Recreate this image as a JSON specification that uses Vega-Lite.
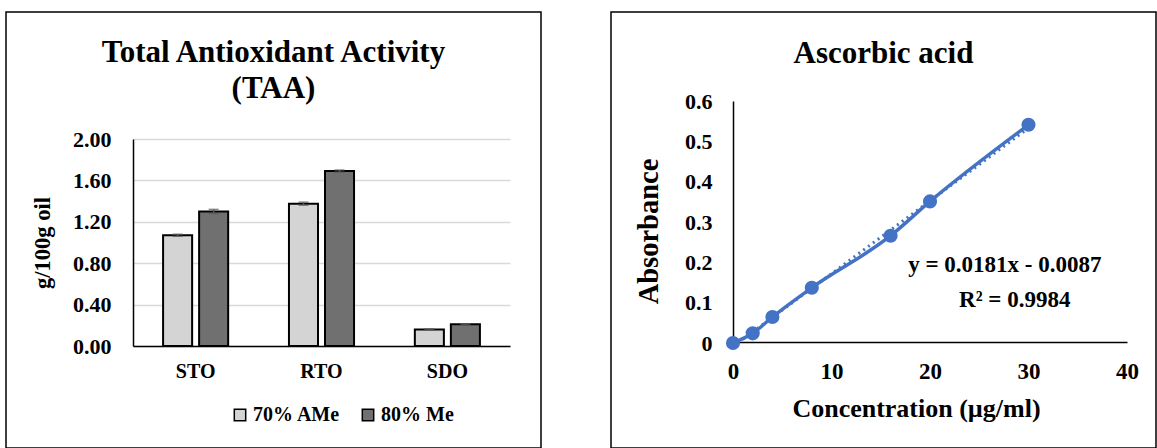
{
  "$schema": "https://vega.github.io/schema/vega-lite/v6.json",
  "padding": {"left": 5, "top": 11, "right": 0, "bottom": 0},
  "background": "white",
  "spacing": 68,
  "config": {
    "font": "Liberation Serif",
    "view": {"stroke": "#000", "strokeWidth": 1.5},
    "axis": {
      "labelFont": "Liberation Serif",
      "titleFont": "Liberation Serif",
      "labelFontWeight": "bold",
      "titleFontWeight": "bold",
      "labelColor": "#000",
      "titleColor": "#000",
      "domainColor": "#000",
      "domainWidth": 1.5,
      "ticks": false,
      "labelFlush": false
    },
    "title": {"font": "Liberation Serif", "fontWeight": "bold", "color": "#000"}
  },
  "hconcat": [
    {
      "width": 535,
      "height": 436,
      "title": {"text": ["Total Antioxidant Activity", "(TAA)"], "fontSize": 31, "lineHeight": 36, "offset": -93, "anchor": "middle", "frame": "group"},
      "data": {
        "values": [
          {"Oil": "STO", "Solvent": "70% AMe", "TAA": 1.07, "lo": 1.06, "hi": 1.08},
          {"Oil": "STO", "Solvent": "80% Me", "TAA": 1.30, "lo": 1.28, "hi": 1.32},
          {"Oil": "RTO", "Solvent": "70% AMe", "TAA": 1.375, "lo": 1.36, "hi": 1.39},
          {"Oil": "RTO", "Solvent": "80% Me", "TAA": 1.69, "lo": 1.68, "hi": 1.70},
          {"Oil": "SDO", "Solvent": "70% AMe", "TAA": 0.16, "lo": 0.155, "hi": 0.165},
          {"Oil": "SDO", "Solvent": "80% Me", "TAA": 0.21, "lo": 0.205, "hi": 0.215}
        ]
      },
      "layer": [
        {
          "mark": {"type": "bar", "stroke": "#000", "strokeWidth": 2},
          "encoding": {
            "x": {
              "field": "Oil", "type": "nominal", "sort": ["STO", "RTO", "SDO"],
              "scale": {"range": [127, 504], "paddingInner": 0.483, "paddingOuter": 0.239},
              "axis": {"title": null, "labelAngle": 0, "labelFontSize": 20, "labelPadding": 15, "offset": -102, "grid": false}
            },
            "xOffset": {"field": "Solvent", "type": "nominal", "scale": {"paddingInner": 0.194, "paddingOuter": 0}},
            "y": {
              "field": "TAA", "type": "quantitative",
              "scale": {"domain": [0, 2], "range": [334, 127], "nice": false},
              "axis": {"title": "g/100g oil", "values": [0, 0.4, 0.8, 1.2, 1.6, 2.0], "format": ".2f", "labelFontSize": 22, "labelPadding": 22, "titleFontSize": 22.5, "titlePadding": 18, "offset": -127, "grid": true, "gridColor": "#d9d9d9", "gridWidth": 1.5}
            },
            "fill": {
              "field": "Solvent", "type": "nominal",
              "scale": {"domain": ["70% AMe", "80% Me"], "range": ["#d4d4d4", "#707070"]},
              "legend": {"title": null, "orient": "none", "legendX": 224, "legendY": 393, "direction": "horizontal", "symbolType": "square", "symbolSize": 130, "symbolStrokeColor": "#000", "symbolStrokeWidth": 1.5, "labelFont": "Liberation Serif", "labelFontWeight": "bold", "labelFontSize": 20, "labelColor": "#000", "labelOffset": 3, "columnPadding": 17}
            }
          }
        },
        {
          "mark": {"type": "rule", "color": "#595959", "strokeWidth": 1.5},
          "encoding": {
            "x": {"field": "Oil", "type": "nominal", "sort": ["STO", "RTO", "SDO"]},
            "xOffset": {"field": "Solvent", "type": "nominal"},
            "y": {"field": "lo", "type": "quantitative"},
            "y2": {"field": "hi"}
          }
        },
        {
          "mark": {"type": "tick", "color": "#595959", "thickness": 1.5, "size": 10},
          "encoding": {
            "x": {"field": "Oil", "type": "nominal", "sort": ["STO", "RTO", "SDO"]},
            "xOffset": {"field": "Solvent", "type": "nominal"},
            "y": {"field": "hi", "type": "quantitative"}
          }
        },
        {
          "mark": {"type": "tick", "color": "#595959", "thickness": 1.5, "size": 10},
          "encoding": {
            "x": {"field": "Oil", "type": "nominal", "sort": ["STO", "RTO", "SDO"]},
            "xOffset": {"field": "Solvent", "type": "nominal"},
            "y": {"field": "lo", "type": "quantitative"}
          }
        }
      ]
    },
    {
      "width": 545,
      "height": 436,
      "title": {"text": "Ascorbic acid", "fontSize": 31, "offset": -58, "anchor": "middle", "frame": "group"},
      "data": {
        "values": [
          {"Conc": 0, "Absorbance": 0},
          {"Conc": 2, "Absorbance": 0.024},
          {"Conc": 4, "Absorbance": 0.0645},
          {"Conc": 8, "Absorbance": 0.137},
          {"Conc": 16, "Absorbance": 0.266},
          {"Conc": 20, "Absorbance": 0.351},
          {"Conc": 30, "Absorbance": 0.541}
        ]
      },
      "layer": [
        {
          "transform": [{"regression": "Absorbance", "on": "Conc", "extent": [0, 30]}],
          "mark": {"type": "line", "strokeDash": [2, 4], "strokeWidth": 3, "color": "#4472C4"},
          "encoding": {
            "x": {
              "field": "Conc", "type": "quantitative",
              "scale": {"domain": [0, 40], "range": [122, 516], "nice": false},
              "axis": {"title": "Concentration (µg/ml)", "values": [0, 10, 20, 30, 40], "labelFontSize": 23, "titleFontSize": 26, "labelPadding": 18, "titlePadding": 12, "titleX": 305, "offset": -106, "grid": false}
            },
            "y": {
              "field": "Absorbance", "type": "quantitative",
              "scale": {"domain": [0, 0.6], "range": [331, 89], "nice": false},
              "axis": {"title": "Absorbance", "values": [0, 0.1, 0.2, 0.3, 0.4, 0.5, 0.6], "format": ".1~f", "labelFontSize": 22, "titleFontSize": 28.5, "labelPadding": 21, "titlePadding": 21, "titleY": 219, "offset": -122, "grid": false}
            }
          }
        },
        {
          "mark": {"type": "line", "interpolate": "monotone", "strokeWidth": 3.5, "color": "#4472C4"},
          "encoding": {
            "x": {"field": "Conc", "type": "quantitative"},
            "y": {"field": "Absorbance", "type": "quantitative"}
          }
        },
        {
          "mark": {"type": "point", "filled": true, "size": 200, "opacity": 1, "color": "#4472C4"},
          "encoding": {
            "x": {"field": "Conc", "type": "quantitative"},
            "y": {"field": "Absorbance", "type": "quantitative"}
          }
        },
        {
          "data": {
            "values": [
              {"Conc": 27.6, "Absorbance": 0.176, "label": "y = 0.0181x - 0.0087"},
              {"Conc": 28.6, "Absorbance": 0.089, "label": "R² = 0.9984"}
            ]
          },
          "mark": {"type": "text", "font": "Liberation Serif", "fontSize": 23, "fontWeight": "bold", "color": "#000", "align": "center", "baseline": "alphabetic"},
          "encoding": {
            "x": {"field": "Conc", "type": "quantitative"},
            "y": {"field": "Absorbance", "type": "quantitative"},
            "text": {"field": "label"}
          }
        }
      ]
    }
  ]
}
